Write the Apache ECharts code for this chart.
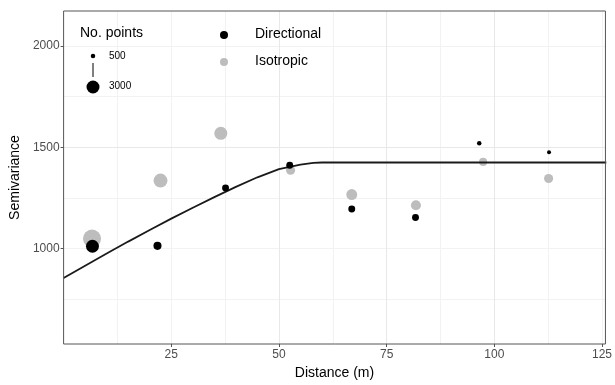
<!DOCTYPE html>
<html>
<head>
<meta charset="utf-8">
<script src="https://cdn.jsdelivr.net/npm/echarts@6/dist/echarts.min.js"></script>
<style>
  html, body { margin: 0; padding: 0; background: #fff; }
  #chart { width: 615px; height: 385px; }
</style>
</head>
<body>
<div id="chart"></div>
<script>
// Directional semivariogram points
const DIST_DIR = [6.7, 21.8, 37.6, 52.5, 66.9, 81.7, 96.5, 112.7]
const SEMI_DIR = [1012, 1014, 1299, 1411, 1196, 1154, 1520, 1475]
const NPTS_DIR = [3000, 1300, 1000, 1000, 1000, 1000, 500, 420]

// Isotropic semivariogram points
const DIST_ISO = [6.6, 22.5, 36.5, 52.7, 66.9, 81.8, 97.4, 112.6]
const SEMI_ISO = [1050, 1336, 1569, 1387, 1267, 1214, 1428, 1346]
const NPTS_ISO = [5500, 3400, 3000, 1600, 2200, 1900, 1300, 1600]

// fitted model line
const MODEL_X = [0, 5, 10, 15, 20, 25, 30, 35, 40, 45, 50, 55, 58, 60, 126]
const MODEL_Y = [855, 916, 976, 1035, 1092, 1148, 1202, 1254, 1305, 1352, 1392, 1415, 1423, 1425, 1425]

const X_TICKS = [25, 50, 75, 100, 125]
const Y_TICKS = [1000, 1500, 2000]
const SIZE_BREAKS = [500, 3000]

const FONT = 'Liberation Sans, Arial, sans-serif'
const GRID_MAJOR = '#e8e8e8'
const GRID_MINOR = '#f2f2f2'
const FRAME = '#555'
const ISO_COLOR = '#bdbdbd'

function dotSize(n) {
  return Math.max(2, -1.37 + 0.262 * Math.sqrt(n))
}

function zip(xs, ys, ns) {
  return xs.map((x, i) => [x, ys[i], ns ? ns[i] : null])
}

const chart = echarts.init(document.getElementById('chart'))

const legendX = 93
const graphic = [
  { type: 'text', left: 80, top: 26, style: { text: 'No. points', font: '14px ' + FONT, fill: '#000' } },
  { type: 'circle', shape: { cx: legendX, cy: 56, r: dotSize(SIZE_BREAKS[0]) / 2 }, style: { fill: '#000' } },
  { type: 'line', shape: { x1: legendX, y1: 63, x2: legendX, y2: 77 }, style: { stroke: '#000', lineWidth: 1 } },
  { type: 'circle', shape: { cx: legendX, cy: 87, r: dotSize(SIZE_BREAKS[1]) / 2 }, style: { fill: '#000' } },
  { type: 'text', left: 109, top: 51, style: { text: String(SIZE_BREAKS[0]), font: '10px ' + FONT, fill: '#000' } },
  { type: 'text', left: 109, top: 81, style: { text: String(SIZE_BREAKS[1]), font: '10px ' + FONT, fill: '#000' } },
  { type: 'circle', shape: { cx: 224, cy: 35, r: 4 }, style: { fill: '#000' } },
  { type: 'text', left: 255, top: 27, style: { text: 'Directional', font: '14px ' + FONT, fill: '#000' } },
  { type: 'circle', shape: { cx: 224, cy: 62, r: 4 }, style: { fill: ISO_COLOR } },
  { type: 'text', left: 255, top: 54, style: { text: 'Isotropic', font: '14px ' + FONT, fill: '#000' } },
].map((g) => ({ ...g, z: 100 }))

const hiddenBits = { axisLine: { show: false }, axisTick: { show: false }, axisLabel: { show: false } }

chart.setOption({
  backgroundColor: '#fff',
  animation: false,
  textStyle: { fontFamily: FONT },
  grid: { show: true, left: 62, right: 6, top: 11, bottom: 41, borderColor: FRAME, borderWidth: 1, z: 5 },
  xAxis: [
    {
      type: 'value',
      min: 0,
      max: 125.8,
      interval: 25,
      z: 1,
      axisLine: { show: false },
      axisTick: { customValues: X_TICKS, length: 3, lineStyle: { color: FRAME } },
      axisLabel: { customValues: X_TICKS, color: '#4d4d4d', fontSize: 12, margin: 5 },
      splitLine: { showMinLine: false, showMaxLine: false, lineStyle: { color: GRID_MAJOR, width: 1 } },
      name: 'Distance (m)',
      nameLocation: 'middle',
      nameGap: 20,
      nameTextStyle: { color: '#000', fontSize: 14 },
    },
    {
      type: 'value',
      position: 'top',
      min: 0,
      max: 125.8,
      interval: 12.5,
      z: 0,
      ...hiddenBits,
      splitLine: { showMinLine: false, showMaxLine: false, lineStyle: { color: GRID_MINOR, width: 1 } },
    },
  ],
  yAxis: [
    {
      type: 'value',
      min: 530,
      max: 2172,
      minInterval: 500,
      maxInterval: 500,
      z: 1,
      axisLine: { show: false },
      axisTick: { customValues: Y_TICKS, length: 3, lineStyle: { color: FRAME } },
      axisLabel: { customValues: Y_TICKS, color: '#4d4d4d', fontSize: 12, margin: 4, formatter: (v) => String(v) },
      splitLine: { showMinLine: false, showMaxLine: false, lineStyle: { color: GRID_MAJOR, width: 1 } },
      name: 'Semivariance',
      nameLocation: 'middle',
      nameGap: 31,
      nameTextStyle: { color: '#000', fontSize: 14 },
    },
    {
      type: 'value',
      position: 'right',
      min: 530,
      max: 2172,
      minInterval: 250,
      maxInterval: 250,
      z: 0,
      ...hiddenBits,
      splitLine: { showMinLine: false, showMaxLine: false, lineStyle: { color: GRID_MINOR, width: 1 } },
    },
  ],
  graphic,
  series: [
    {
      name: 'Isotropic',
      type: 'scatter',
      z: 2,
      data: zip(DIST_ISO, SEMI_ISO, NPTS_ISO),
      symbolSize: (v) => dotSize(v[2]),
      itemStyle: { color: ISO_COLOR, opacity: 1 },
    },
    {
      name: 'Model',
      type: 'line',
      z: 3,
      data: zip(MODEL_X, MODEL_Y),
      showSymbol: false,
      lineStyle: { color: '#1a1a1a', width: 1.8 },
    },
    {
      name: 'Directional',
      type: 'scatter',
      z: 4,
      data: zip(DIST_DIR, SEMI_DIR, NPTS_DIR),
      symbolSize: (v) => dotSize(v[2]),
      itemStyle: { color: '#000', opacity: 1 },
    },
  ],
})
</script>
</body>
</html>
